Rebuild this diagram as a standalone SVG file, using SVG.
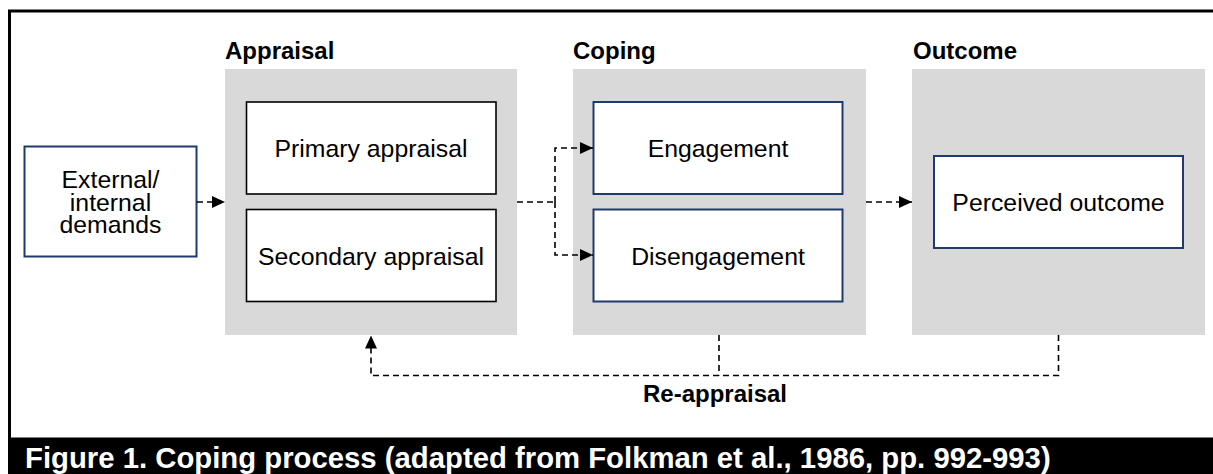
<svg xmlns="http://www.w3.org/2000/svg" width="1213" height="474" viewBox="0 0 1213 474">
<defs>
<style>
.t{font-family:"Liberation Sans",Arial,sans-serif;font-size:24.8px;fill:#000;text-anchor:middle}
.h{font-family:"Liberation Sans",Arial,sans-serif;font-size:24px;font-weight:bold;fill:#000}
.grp{fill:#d9d9d9}
.bb{fill:#fff;stroke:#1f3b6e;stroke-width:2}
.kb{fill:#fff;stroke:#000;stroke-width:1.6}
.c{fill:none;stroke:#000;stroke-width:1.6;stroke-dasharray:6,4}
</style>
<marker id="arr" markerUnits="userSpaceOnUse" markerWidth="13" markerHeight="12" refX="13" refY="6" orient="auto">
<path d="M0,0 L13,6 L0,12 z" fill="#000"/>
</marker>
</defs>
<rect x="0" y="0" width="1213" height="474" fill="#fff"/>
<path d="M9.5,438 V11 H1213" fill="none" stroke="#000" stroke-width="3"/>
<g id="caption">
<rect x="8" y="437.5" width="1205" height="36.5" fill="#000"/>
<text x="25" y="467.5" style="font-family:'Liberation Sans',Arial,sans-serif;font-size:29.3px;font-weight:bold;fill:#fff">Figure 1. Coping process (adapted from Folkman et al., 1986, pp. 992-993)</text>
</g>
<g id="appraisal">
<text class="h" x="225" y="59">Appraisal</text>
<rect class="grp" x="225" y="69" width="292" height="266"/>
</g>
<g id="coping">
<text class="h" x="573" y="59">Coping</text>
<rect class="grp" x="573" y="69" width="293" height="266"/>
</g>
<g id="outcome">
<text class="h" x="913" y="59">Outcome</text>
<rect class="grp" x="912" y="69" width="293" height="266"/>
</g>
<g id="demands">
<rect class="bb" x="24.5" y="146.5" width="172" height="110"/>
<text class="t" x="110.5" y="188">External/</text>
<text class="t" x="110.5" y="210.5">internal</text>
<text class="t" x="110.5" y="233">demands</text>
</g>
<g id="primary">
<rect class="kb" x="246.5" y="102" width="249.5" height="92"/>
<text class="t" x="371" y="157">Primary appraisal</text>
</g>
<g id="secondary">
<rect class="kb" x="246.5" y="209.5" width="249.5" height="92"/>
<text class="t" x="371" y="264.5">Secondary appraisal</text>
</g>
<g id="engagement">
<rect class="bb" x="593.5" y="102" width="249" height="92"/>
<text class="t" x="718" y="157">Engagement</text>
</g>
<g id="disengagement">
<rect class="bb" x="593.5" y="209.5" width="249" height="92"/>
<text class="t" x="718" y="264.5">Disengagement</text>
</g>
<g id="perceived">
<rect class="bb" x="934" y="156" width="249" height="92"/>
<text class="t" x="1058.5" y="211">Perceived outcome</text>
</g>
<g id="connectors">
<path class="c" d="M197,202 H225" marker-end="url(#arr)"/>
<path class="c" d="M517,202 H555"/>
<path class="c" d="M555,202 V148 H593" marker-end="url(#arr)"/>
<path class="c" d="M555,202 V255 H593" marker-end="url(#arr)"/>
<path class="c" d="M866,202 H912" marker-end="url(#arr)"/>
<path class="c" d="M1058.5,335 V375.5 H371 V335.5" marker-end="url(#arr)"/>
<path class="c" d="M719,335 V375.5"/>
<text class="h" x="715" y="401.5" text-anchor="middle">Re-appraisal</text>
</g>
</svg>
